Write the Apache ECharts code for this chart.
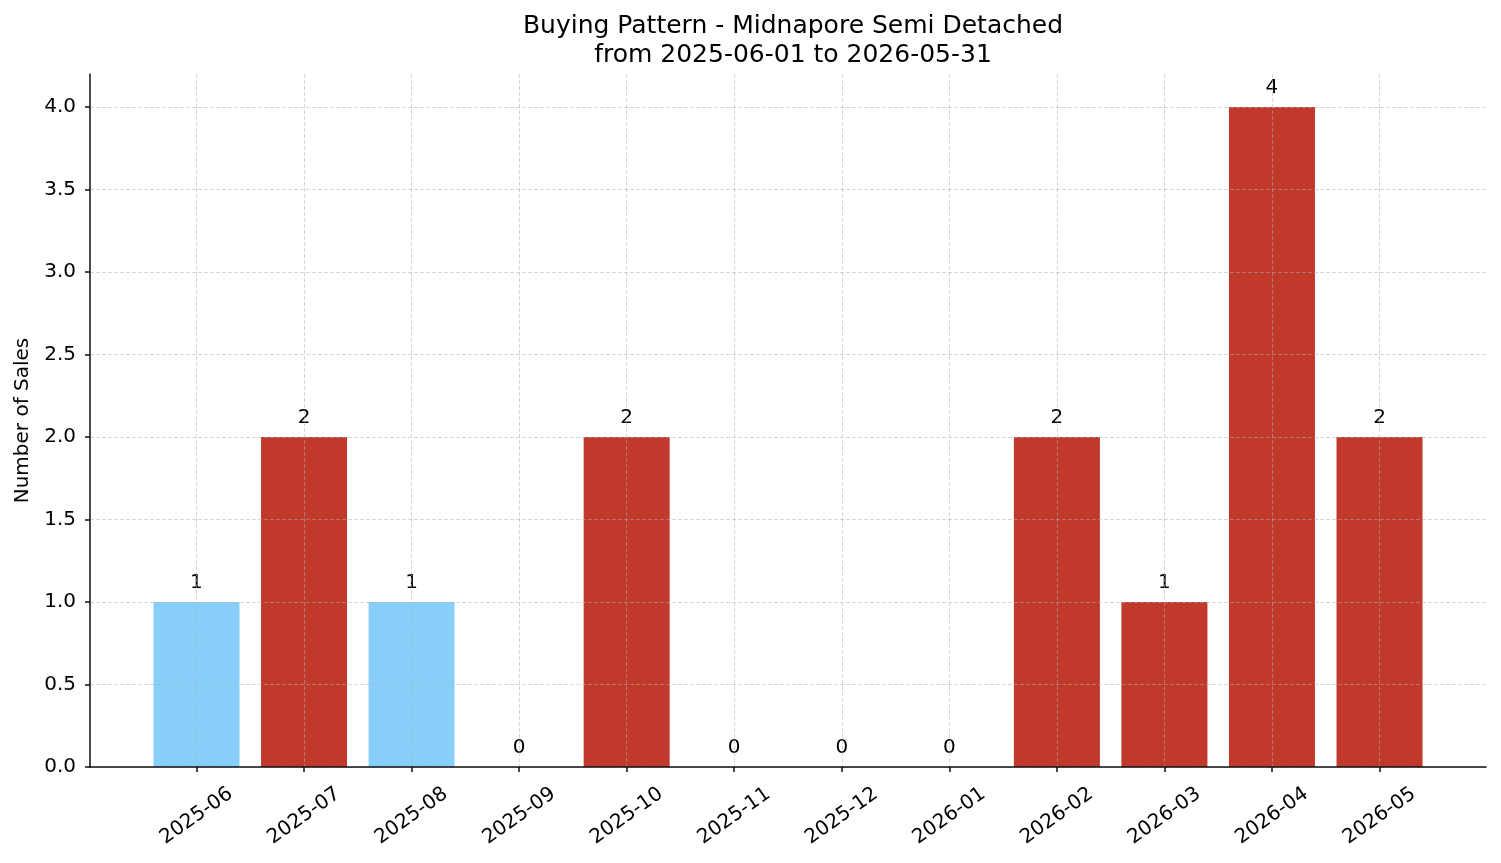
<!DOCTYPE html>
<html>
<head>
<meta charset="utf-8">
<script src="https://cdn.jsdelivr.net/npm/echarts@6/dist/echarts.min.js"></script>
<style>
	html, body { margin: 0; padding: 0; background: #fff; }
	#chart { width: 1501px; height: 863px; }
</style>
</head>
<body>
<div id="chart"></div>
<script>
const months = ['2025-06', '2025-07', '2025-08', '2025-09', '2025-10', '2025-11', '2025-12', '2026-01', '2026-02', '2026-03', '2026-04', '2026-05']
const sales = [1, 2, 1, 0, 2, 0, 0, 0, 2, 1, 4, 2]
const barColors = ['#87CEFA', '#C0392B', '#87CEFA', '#C0392B', '#C0392B', '#C0392B', '#C0392B', '#C0392B', '#C0392B', '#C0392B', '#C0392B', '#C0392B']
const yTicks = [0, 0.5, 1, 1.5, 2, 2.5, 3, 3.5, 4]

const font = 'DejaVu Sans'
const xTicks = months.map((m, i) => i)
// dashed grid drawn over the bars, like the source
const gridLine = { show: true, lineStyle: { color: 'rgba(176,176,176,0.5)', type: [4, 2], width: 1 } }

let chart = echarts.init(document.getElementById('chart'))
chart.setOption({
	animation: false,
	backgroundColor: '#fff',
	textStyle: { fontFamily: font },
	title: {
		text: 'Buying Pattern - Midnapore Semi Detached\nfrom 2025-06-01 to 2026-05-31',
		left: 788,
		textAlign: 'center',
		top: 7,
		textStyle: { fontFamily: font, fontSize: 25, fontWeight: 'normal', color: '#000', lineHeight: 29 },
	},
	grid: { left: 90, right: 15, top: 74, bottom: 96, containLabel: false },
	xAxis: {
		type: 'value',
		min: -0.99,
		max: 11.99,
		axisLine: { show: true, onZero: false, lineStyle: { color: '#111', width: 1.5 } },
		axisTick: { show: true, customValues: xTicks, length: 5, lineStyle: { color: '#111', width: 1.5 } },
		axisLabel: {
			customValues: xTicks,
			rotate: 35,
			align: 'center',
			verticalAlign: 'middle',
			margin: 49,
			fontSize: 20,
			fontFamily: font,
			color: '#000',
			formatter: v => months[Math.round(v)],
		},
		splitLine: gridLine,
	},
	yAxis: {
		type: 'value',
		min: 0,
		max: 4.2,
		name: 'Number of Sales',
		nameLocation: 'middle',
		nameGap: 57,
		nameTextStyle: { fontFamily: font, fontSize: 20, color: '#000' },
		axisLine: { show: true, onZero: false, lineStyle: { color: '#111', width: 1.5 } },
		axisTick: { show: true, customValues: yTicks, length: 5, lineStyle: { color: '#111', width: 1.5 } },
		axisLabel: {
			customValues: yTicks,
			margin: 14,
			fontSize: 20,
			fontFamily: font,
			color: '#000',
			formatter: v => v.toFixed(1),
		},
		splitLine: gridLine,
	},
	series: [{
		type: 'bar',
		z: -1,
		barWidth: 86,
		data: sales.map((v, i) => ({ value: [i, v], itemStyle: { color: barColors[i] } })),
		label: {
			show: true,
			position: 'top',
			distance: 9,
			fontFamily: font,
			fontSize: 20,
			color: '#000',
			formatter: p => String(p.value[1]),
		},
	}],
})
</script>
</body>
</html>
